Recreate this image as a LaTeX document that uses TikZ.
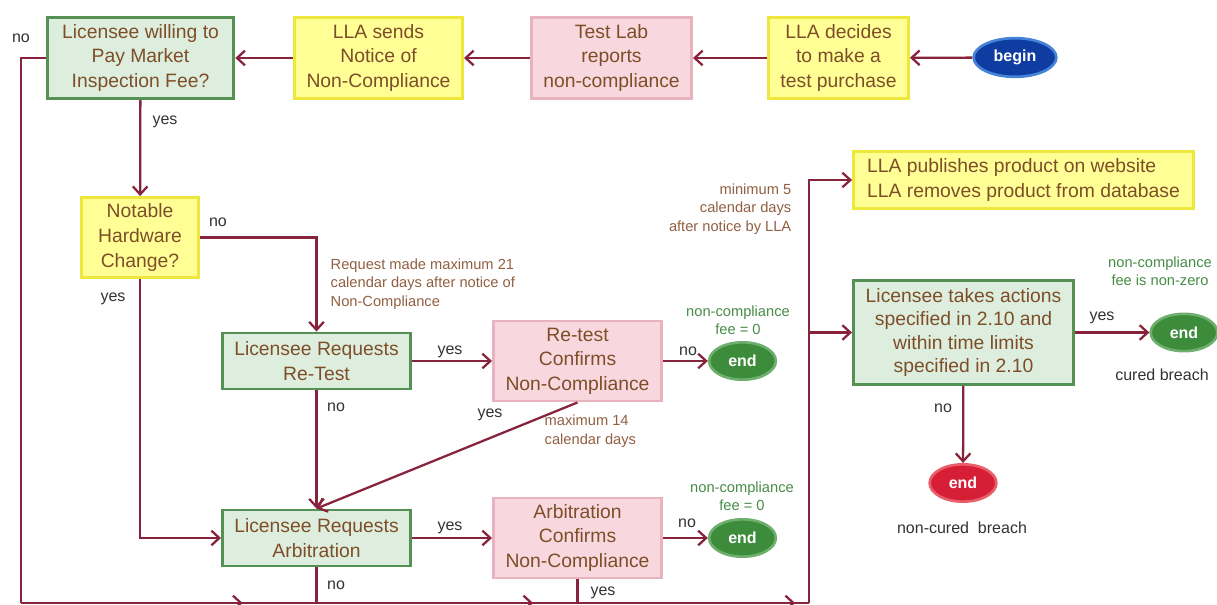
\documentclass[tikz,border=0pt]{standalone}
\usepackage{fontspec}
\setmainfont{Liberation Sans}
\usetikzlibrary{arrows.meta,shapes.geometric,decorations.markings}
\definecolor{linered}{RGB}{135,35,60}
\definecolor{gfill}{RGB}{222,238,222}
\definecolor{gline}{RGB}{85,145,85}
\definecolor{yfill}{RGB}{255,255,150}
\definecolor{yline}{RGB}{238,232,60}
\definecolor{pfill}{RGB}{248,216,222}
\definecolor{pline}{RGB}{232,178,190}
\definecolor{boxtext}{RGB}{125,78,40}
\definecolor{notebrown}{RGB}{145,95,65}
\definecolor{feegreen}{RGB}{70,140,70}
\definecolor{lblgray}{RGB}{50,50,50}
\definecolor{endg}{RGB}{60,140,60}
\definecolor{endgline}{RGB}{110,175,110}
\definecolor{endr}{RGB}{215,30,55}
\definecolor{endrline}{RGB}{232,95,105}
\definecolor{beginb}{RGB}{15,60,160}
\definecolor{beginline}{RGB}{70,130,215}
\tikzset{wire/.style = {color=linered, line width=1.7pt}}
\tikzset{flow/.style = {wire, ->}}
\tikzset{midarrow/.style = {decoration={markings, mark=at position #1 with {\arrow{>}}}, postaction={decorate}}}
\tikzset{box/.style = {draw, rectangle, line width=2.2pt, align=center, inner sep=2pt, text=boxtext,
                       font=\fontsize{14.5}{18.4}\selectfont}}
\tikzset{gbox/.style = {box, draw=gline, fill=gfill}}
\tikzset{ybox/.style = {box, draw=yline, fill=yfill}}
\tikzset{pbox/.style = {box, draw=pline, fill=pfill}}
\tikzset{term/.style = {ellipse, line width=2pt, inner sep=0, text=white,
                        minimum width=50pt, minimum height=28pt, font=\fontsize{12}{14}\selectfont\bfseries}}
\tikzset{gend/.style = {term, draw=endgline, fill=endg}}
\tikzset{rend/.style = {term, draw=endrline, fill=endr}}
\tikzset{lbl/.style = {text=lblgray, font=\fontsize{12}{14}\selectfont}}
\tikzset{note/.style = {text=notebrown, font=\fontsize{11}{13.9}\selectfont}}
\tikzset{feenote/.style = {text=feegreen, align=center, font=\fontsize{11}{13.5}\selectfont}}

\begin{document}
\begin{tikzpicture}[x=0.75pt, y=-0.75pt, >={Straight Barb[length=6pt,width=11pt]}]
    \useasboundingbox (0,0) rectangle (1217,605);
    % top row
    \node[gbox, minimum width=140pt, minimum height=61pt] (fee) at (140.5,58) {Licensee willing to\\Pay Market\\Inspection Fee?};
    \node[ybox, minimum width=126pt, minimum height=61pt] (notice) at (378.5,58) {LLA sends\\Notice of\\Non-Compliance};
    \node[pbox, minimum width=120pt, minimum height=61pt] (lab) at (611.5,58) {Test Lab\\reports\\non-compliance};
    \node[ybox, minimum width=105pt, minimum height=61pt] (decide) at (838.5,58) {LLA decides\\to make a\\test purchase};
    \node[term, draw=beginline, fill=beginb, minimum width=62pt, minimum height=29pt] (begin) at (1015,57.5) {begin};
    \node[ybox, align=left, minimum width=255pt, minimum height=43pt] (publish) at (1023.5,180) {LLA publishes product on website\\LLA removes product from database};
    % left part
    \node[ybox, minimum width=88pt, minimum height=60pt] (hw) at (140,237.5) {Notable\\Hardware\\Change?};
    \node[gbox, minimum width=141pt, minimum height=42pt] (retest) at (316.5,361) {Licensee Requests\\Re-Test};
    \node[pbox, minimum width=126pt, minimum height=60pt] (rconf) at (577.5,361) {Re-test\\Confirms\\Non-Compliance};
    \node[gend] (retestend) at (742.5,361) {end};
    \node[gbox, minimum width=141pt, minimum height=42pt] (arb) at (316.5,538) {Licensee Requests\\Arbitration};
    \node[pbox, minimum width=126pt, minimum height=60pt] (aconf) at (577.5,538) {Arbitration\\Confirms\\Non-Compliance};
    \node[gend] (arbend) at (742.5,538) {end};
    % right part
    \node[gbox, minimum width=165pt, minimum height=78pt, font=\fontsize{14.5}{17.6}\selectfont] (act) at (963.5,332.5) {Licensee takes actions\\specified in 2.10 and\\within time limits\\specified in 2.10};
    \node[gend] (curedend) at (1184,332.5) {end};
    \node[rend] (noncuredend) at (963,483) {end};
    % bus
    \coordinate (nw) at (21,58);
    \coordinate (sw) at (21,603);
    \coordinate (jarb) at (316.5,603);
    \coordinate (jconf) at (577.5,603);
    \coordinate (se) at (809,603);
    \coordinate (ract) at (809,332.5);
    % connectors
    \draw[flow] (begin) -- (decide);
    \draw[flow] (decide) -- (lab);
    \draw[flow] (lab) -- (notice);
    \draw[flow] (notice) -- (fee);
    \draw[flow] (fee) -- (hw);
    \draw[flow] (hw.east) -| (retest.north);
    \draw[flow] (hw.south) |- (arb.west);
    \draw[flow] (retest) -- (rconf);
    \draw[flow] (rconf) -- (retestend);
    \draw[flow] (retest) -- (arb);
    \draw[flow] (rconf.south) -- (arb.north);
    \draw[flow] (arb) -- (aconf);
    \draw[flow] (aconf) -- (arbend);
    \draw[wire] (fee.west) -- (nw) -- (sw);
    \draw[wire, midarrow=0.75] (sw) -- (jarb);
    \draw[wire] (arb.south) -- (jarb);
    \draw[wire, midarrow=0.83] (jarb) -- (jconf);
    \draw[wire] (aconf.south) -- (jconf);
    \draw[wire, midarrow=0.94] (jconf) -- (se);
    \draw[flow] (se) |- (publish.west);
    \draw[flow] (ract) -- (act);
    \draw[flow] (act) -- (curedend);
    \draw[flow] (act) -- (noncuredend);
    % labels
    \node[lbl] (feeno) at (21,38) {no};
    \node[lbl] (feeyes) at (165,122) {yes};
    \node[lbl] (hwno) at (218,222) {no};
    \node[lbl] (hwyes) at (113,299) {yes};
    \node[lbl] (retestyes) at (450,352) {yes};
    \node[lbl] (retestno) at (336,407) {no};
    \node[lbl] (rconfyes) at (490,415) {yes};
    \node[lbl] (rconfno) at (688,351) {no};
    \node[lbl] (arbyes) at (450,528) {yes};
    \node[lbl] (arbno) at (336,585) {no};
    \node[lbl] (aconfno) at (687,523) {no};
    \node[lbl] (aconfyes) at (603,593) {yes};
    \node[lbl] (actyes) at (1102,318) {yes};
    \node[lbl] (actno) at (943,408) {no};
    \node[lbl] (curedtxt) at (1162,375) {cured breach};
    \node[lbl] (noncuredtxt) at (962,528) {non-cured\ \ breach};
    \node[note, align=left, anchor=west] (reqnote) at (326,284) {Request made maximum 21\\calendar days after notice of\\Non-Compliance};
    \node[note, align=left, anchor=west] (maxnote) at (540,431) {maximum 14\\calendar days};
    \node[note, align=right, anchor=east] (minnote) at (796,209) {minimum 5\\calendar days\\after notice by LLA};
    \node[feenote] (rfee) at (738,320) {non-compliance\\fee = 0};
    \node[feenote] (afee) at (742,496) {non-compliance\\fee = 0};
    \node[feenote] (cfee) at (1160,271) {non-compliance\\fee is non-zero};
\end{tikzpicture}
\end{document}
